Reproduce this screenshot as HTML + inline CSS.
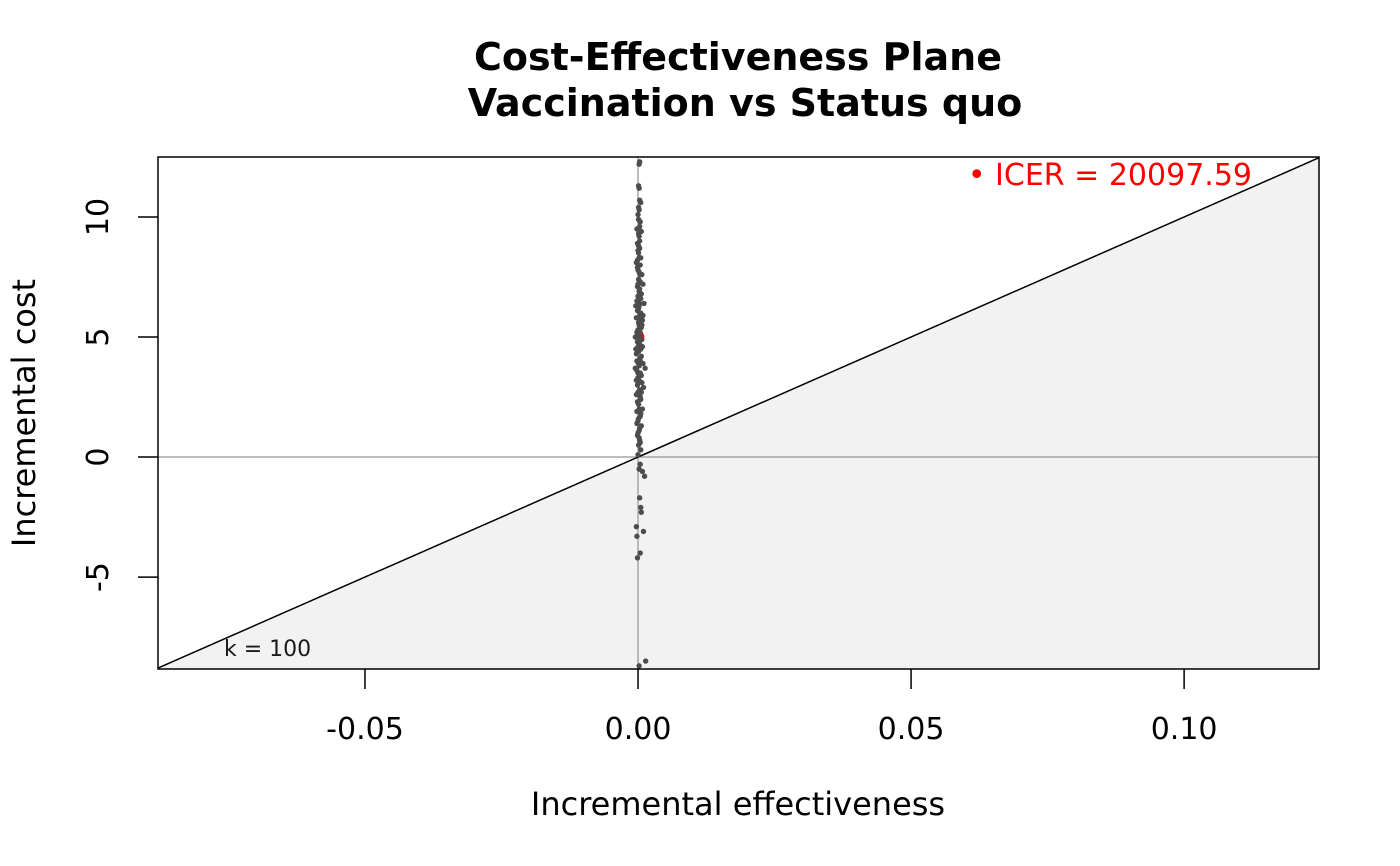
<!DOCTYPE html>
<html><head><meta charset="utf-8"><style>
body{margin:0;background:#fff}
svg{display:block;font-family:"DejaVu Sans","Liberation Sans",sans-serif}
</style></head><body>
<svg id="chart" width="1400" height="866" viewBox="0 0 1400 866">
<text x="738" y="70" text-anchor="middle" font-size="38" font-weight="bold">Cost-Effectiveness Plane</text>
<text x="745" y="116" text-anchor="middle" font-size="38" font-weight="bold">Vaccination vs Status quo</text>
<text x="738" y="815" text-anchor="middle" font-size="32">Incremental effectiveness</text>
<text transform="translate(35,413) rotate(-90)" text-anchor="middle" font-size="32">Incremental cost</text>
<g id="plot"></g>
</svg>
<script>
const xTicks=[-0.05,0,0.05,0.1];
const xTickLabels=["-0.05","0.00","0.05","0.10"];
const yTicks=[-5,0,5,10];
const yTickLabels=["-5","0","5","10"];
const wtp=100;
const icerValue=20097.59;
const meanEff=0.00025;
const meanCost=5.02;
const effX=[3,2,1,2,3,1,5,0,-2,4,2,6,-1,3,1,-3,5,2,0,7,4,-1,9,2,6,-2,3,11,1,5,-3,8,2,0,4,-1,7,3,-4,1,6,-2,9,2,-5,13,4,0,7,-1,3,10,-3,5,1,8,-2,4,0,6,2,-1,3,1,5,0,4,2,8,12,3,5,6,-3,10,-2,4,-1,2,14,
1,3,0,2,-1,4,1,3,0,5,2,-1,4,1,6,-2,3,2,0,5,-3,3,1,-2,6,2,0,4,-1,2,5,1,-2,3,0,2,4,1,2,3,0,2,-1,1,3,0,2,1,-1,4,7,-4,8,-3,6,9,-5,2,1,4].map(v=>v*1e-4);
const costY=[12.3,12.2,11.3,11.2,10.7,10.4,10.6,10.1,9.5,9.8,9.2,9.4,8.9,8.7,8.5,8.1,8.3,8.0,7.8,7.6,7.3,7.1,7.2,6.9,6.8,6.5,6.4,6.4,6.2,6.0,5.8,5.7,5.5,5.3,5.2,5.0,4.9,4.7,4.5,4.4,4.2,4.0,3.9,3.8,3.7,3.7,3.5,3.3,3.1,3.0,2.8,2.9,2.6,2.4,2.2,2.0,1.9,1.7,1.5,1.3,1.1,0.9,0.7,0.5,0.3,0.1,-0.3,-0.5,-0.6,-0.8,-1.7,-2.1,-2.3,-2.9,-3.1,-3.3,-4.0,-4.2,-8.7,-8.5,
9.9,9.0,8.6,8.3,7.9,7.6,7.4,7.0,6.7,6.6,6.3,6.1,5.9,5.6,5.4,5.2,5.1,4.8,4.6,4.5,4.3,4.1,3.9,3.6,3.4,3.2,2.7,2.5,2.3,2.0,1.8,1.6,1.4,1.2,1.0,0.8,0.6,4.9,5.8,6.0,7.2,7.7,8.2,8.8,9.6,3.5,2.6,1.9,4.8,4.0,5.5,6.3,4.6,3.2,2.7,5.9,5.0,10.3,9.3,8.0];
const NS="http://www.w3.org/2000/svg";
const L=158,R=1319,T=157,B=669;
const x0=-0.0879,x1=0.1247,y0=-8.83,y1=12.5;
const sx=v=>L+(v-x0)/(x1-x0)*(R-L);
const sy=v=>B-(v-y0)/(y1-y0)*(B-T);
const g=document.getElementById('plot');
function mk(tag,attrs){const e=document.createElementNS(NS,tag);for(const k in attrs)e.setAttribute(k,attrs[k]);g.appendChild(e);return e;}
let ya=wtp*x0, yb=wtp*x1;
let sh=mk('polygon',{points:`${sx(x0)},${sy(ya)} ${sx(x1)},${sy(yb)} ${R},${B} ${L},${B}`,fill:'#f2f2f2'});


let h=mk('line',{x1:L,x2:R,y1:sy(0),y2:sy(0),stroke:'#a6a6a6','stroke-width':1.5});


let v=mk('line',{x1:sx(0),x2:sx(0),y1:T,y2:B,stroke:'#a6a6a6','stroke-width':1.5});


let wl=mk('line',{x1:sx(x0),y1:sy(ya),x2:sx(x1),y2:sy(yb),stroke:'#000','stroke-width':1.5});


const mp=mk('circle',{cx:sx(meanEff),cy:sy(meanCost),r:5,fill:'#ff0000'});


for(let i=0;i<effX.length;i++){
  const c=mk('circle',{cx:sx(effX[i]),cy:sy(costY[i]),r:2.7,fill:'#4d4d4d'});
  
  
}
const box=mk('rect',{x:L,y:T,width:R-L,height:B-T,fill:'none',stroke:'#000','stroke-width':1.5});


xTicks.forEach((t,i)=>{
  const tl=mk('line',{x1:sx(t),x2:sx(t),y1:B,y2:B+20,stroke:'#000','stroke-width':1.5});
  
  
  const tx=mk('text',{x:sx(t),y:B+70,'text-anchor':'middle','font-size':30});
  tx.textContent=xTickLabels[i];
  
  
});
yTicks.forEach((t,i)=>{
  const tl=mk('line',{x1:L-20,x2:L,y1:sy(t),y2:sy(t),stroke:'#000','stroke-width':1.5});
  
  
  const tx=mk('text',{transform:`translate(${L-50},${sy(t)}) rotate(-90)`,'text-anchor':'middle','font-size':30});
  tx.textContent=yTickLabels[i];
  
  
});
const ic=mk('text',{x:1252,y:185,'text-anchor':'end','font-size':30,fill:'#ff0000'});
ic.textContent='• ICER = '+icerValue.toFixed(2);


const kl=mk('text',{x:224,y:656,'font-size':22,fill:'#1a1a1a'});
kl.textContent='k = '+wtp;


</script>
</body></html>
